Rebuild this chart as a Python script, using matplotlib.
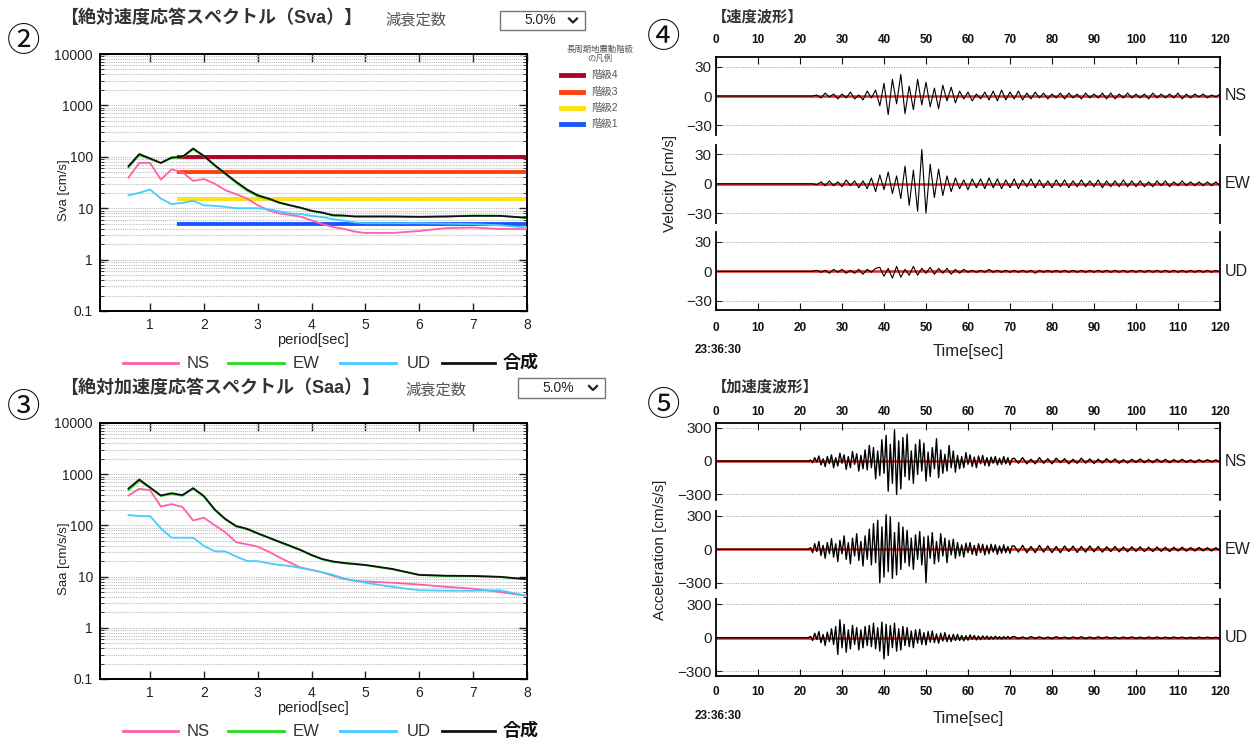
import numpy as np
import matplotlib
matplotlib.use('Agg')
import matplotlib.pyplot as plt
from matplotlib.lines import Line2D
from matplotlib.patches import Rectangle
from matplotlib.ticker import LogLocator, NullFormatter

plt.rcParams['font.family'] = ['Liberation Sans', 'Noto Sans CJK JP', 'DejaVu Sans']
NARROW = ['Liberation Sans Narrow', 'Liberation Sans', 'DejaVu Sans']

# ---- response spectra (period in sec) ----
period = [0.6, 0.8, 1.0, 1.2, 1.4, 1.6, 1.8, 2.0, 2.2, 2.4, 2.6, 2.8, 3.0, 3.2, 3.4,
          3.6, 3.8, 4.0, 4.2, 4.4, 4.6, 4.8, 5.0, 5.5, 6.0, 6.5, 7.0, 7.5, 8.0]
sva_ns = [39.6, 76, 76, 36, 57, 50, 34, 37, 30, 22.4, 18.7, 15.4, 11.4, 9.1, 7.9,
          7.4, 6.8, 5.8, 4.9, 4.3, 3.95, 3.5, 3.3, 3.3, 3.6, 4.1, 4.2, 3.95, 3.9]
sva_ew = [62, 108, 90, 76, 94, 98, 140, 102, 67, 46, 31, 22, 17, 15, 12.7,
          11.3, 10.1, 8.8, 8.1, 7.2, 7.1, 6.9, 6.9, 6.9, 6.8, 6.9, 7.2, 7.1, 6.5]
sva_ud = [17.9, 19.9, 23.1, 15.4, 12, 12.7, 13.9, 11.4, 11.1, 10.6, 10, 10, 10, 9.5, 8.7,
          7.9, 7.7, 7.1, 6.7, 6.1, 5.7, 5.3, 5.1, 5.1, 5.1, 5.0, 4.9, 4.65, 4.2]
sva_all = [66, 113, 93, 76, 97, 100, 145, 104, 69, 47, 32.6, 23.1, 17.9, 15.4, 12.9,
           11.4, 10.2, 8.9, 8.2, 7.3, 7.2, 6.9, 6.9, 6.9, 6.8, 6.9, 7.1, 7.1, 6.5]

saa_ns = [384, 518, 488, 234, 260, 230, 125, 141, 101, 73, 46.7, 42.7, 38.4, 30.7, 23.8,
          18.7, 15, 13.5, 12.1, 10.4, 9.0, 8.3, 8.0, 7.6, 7.0, 6.3, 5.8, 5.0, 4.2]
saa_ew = [490, 740, 540, 375, 410, 380, 520, 365, 200, 130, 95, 84, 69, 57, 47,
          39, 32.5, 26, 21.7, 19.4, 18.2, 17.4, 16.6, 13.9, 10.7, 10.3, 10.2, 9.8, 8.8]
saa_ud = [159, 152, 152, 87.5, 57.5, 57.5, 57.5, 39.6, 31.2, 31, 24.6, 20.2, 20, 18.2, 16.9,
          16.1, 14.7, 13.5, 12.1, 10.8, 9.2, 8.3, 7.6, 6.3, 5.4, 5.3, 5.3, 5.4, 4.2]
saa_all = [526, 787, 550, 384, 426, 390, 534, 373, 205, 133, 97, 86, 70, 58, 48,
           40, 33, 26.4, 22, 19.7, 18.5, 17.7, 16.9, 14.1, 10.8, 10.4, 10.3, 9.9, 8.9]

# long-period ground motion class levels (cm/s), drawn from 1.5 s
level_names = ['階級4', '階級3', '階級2', '階級1']
level_vals = [100, 50, 15, 5]
level_colors = ['#b0002a', '#ff4010', '#ffe010', '#1a56ff']
level_start = 1.5

comp_names = ['NS', 'EW', 'UD', '合成']
comp_colors = ['#ff5fa8', '#22dd22', '#44ccff', '#111111']

# ---- waveforms ----
# velocity: 1 s samples from 23 s
vel_t0 = 23
vel_ns = [0, 1, -2, 3, -1, 2, -3, 2, -2, 4, -3, 1, -4, 5, -2,
          6, -10, 13, -19, 17, -8, 22, -18, 10, -14, 17, -9, 14, -11, 8, -13, 11, -5, 9, -7,
          5, -3, 4, -5, 2, -3, 4, -4, 5, -5, 6, -4, 4, -3, 5, -4, 3, -3, 4, -2,
          3, -3, 2, -2, 3, -3, 3, -2, 2, -3, 3, -2, 2, -2, 3, -3, 3, -3, 2, -2,
          3, -2, 2, -2, 2, -3, 3, -2, 2, -2, 2, -2, 3, -3, 2, -2, 2, -1, 2, -2, 1, -1, 2]
vel_ew = [0, -1, 2, -2, 3, -2, 2, -3, 4, -2, 3, -4, 3, -5,
          6, -8, 9, -6, 12, -10, 8, -15,
          18, -22, 14, -28, 35, -30, 20, -14, 15, -12, 8, -8,
          6, -5, 4, -6, 5, -4, 5, -5, 6, -4, 5, -5, 4, -4, 5, -5, 4, -3, 5, -4,
          4, -4, 3, -4, 4, -3, 4, -4, 3, -3, 4, -3, 3, -3, 4, -4, 3, -3, 3, -3,
          4, -3, 3, -3, 3, -3, 2, -3, 3, -2, 3, -3, 2, -2, 3, -2, 2, -2, 2, -2,
          2, -2, 2, -2]
vel_ud = [0, 1, -1, 1, -2, 2, -1, 2, -2, 1, -2, 2, -3, 2, -1, 3,
          4, -5, 3, -7, 5, -6, 2, -4, 5, -4,
          3, -2, 4, -3, 3, -2, 3, -3, 2, -2, 2, -1,
          1, -1, 1, -1, 2, -1, 1, -1, 1, -1, 1, -1, 1, -1, 1, -2, 1, -1, 1, -1,
          1, -1, 1, -1, 1, -1, 1, -1, 1, -1, 1, -1, 1, -1, 1, -1, 1, -1, 1, -1,
          1, -1, 1, -1, 1, -1, 1, -1, 1, -1, 1, -1, 1, -1, 1, -1, 1, -1, 1, -1]

# acceleration: 0.5 s samples from 22 s, then 1 s samples from 71 s
acc_t0 = 22
acc_tail_t0 = 71
acc_ns = [0, 8, -15, 30, -10, 45, -35, 20, -50, 40, -25, 55,
          -60, 30, -45, 70, -20, 55, -75, 40, -60, 85, -30, 65, -90, 50, -70, 100,
          -80, 140, -60, 120, -160, 90, -130, 190, -110, 230,
          -270, 150, -200, 280, -300, 180, -250, 210, -140, 240,
          -170, 90, -200, 150, -120, 190, -90, 160, -180, 80, -140, 120,
          -70, 200, -150, 100, -110, 60, -90, 140, -60, 90, -100, 50,
          -70, 40, -60, 75, -30, 55, -50, 35, -60, 45, -25, 50, -40,
          30, -45, 35, -20, 40, -35, 25, -30, 40, -25, 30, -35, 20]
acc_ns_tail = [25, -20, 30, -25, 15, -25, 30, -20, 20, -25, 25, -15, 20, -25, 15, -20, 25, -18,
               18, -22, 15, -18, 20, -15, 18, -20, 12, -18, 15, -12, 18, -15, 12, -15, 16, -12,
               14, -15, 12, -10, 15, -12, 10, -14, 12, -10, 12, -8, 10, -10]
acc_ew = [0, 15, -30, 50, -20, 70, -55, 35, -80, 60, -40, 95,
          -70, 50, -110, 80, -40, 120, -90, 60, -130, 100, -60, 140, -100, 70, -150, 120,
          -90, 180, -140, 230, -120, 260, -300, 200, -250, 310,
          -200, 290, -260, 150, -230, 240, -180, 200, -120, 170,
          -150, 100, -180, 130, -90, 160, -140, 110, -300, 120, -80, 150,
          -130, 70, -110, 140, -60, 100, -120, 80, -50, 90, -80, 60,
          -60, 40, -70, 55, -30, 60, -45, 35, -55, 50, -30, 45, -50,
          35, -40, 45, -25, 40, -45, 30, -35, 40, -30, 25, -35, 30]
acc_ew_tail = [30, -25, 35, -30, 25, -30, 35, -25, 30, -30, 25, -30, 30, -20, 28, -28, 25, -25,
               30, -22, 25, -25, 22, -20, 25, -22, 20, -22, 22, -18, 22, -20, 18, -20, 20, -18,
               18, -20, 18, -15, 18, -16, 15, -15, 16, -14, 14, -15, 14, -12]
acc_ud = [0, 12, -25, 40, -15, 55, -45, 30, -70, 50, -35, 80,
          -60, 100, -150, 160, -90, 120, -130, 70, -100, 110, -60, 90, -110, 70, -90, 100,
          -70, 110, -80, 130, -100, 90, -120, 140, -190, 120,
          -160, 110, -90, 130, -120, 80, -110, 100, -70, 90,
          -80, 60, -90, 70, -50, 75, -60, 45, -65, 55, -40, 60,
          -45, 35, -50, 40, -30, 45, -35, 25, -35, 30, -25, 30,
          -25, 20, -28, 18, -22, 25, -15, 20, -20, 15, -18, 16, -12,
          15, -14, 10, -12, 13, -10, 9, -12, 10, -8, 11, -9, 8]
acc_ud_tail = [10, -8, 7, -9, 10, -6, 8, -8, 6, -8, 9, -7, 6, -8, 7, -6, 8, -7,
               6, -7, 8, -5, 7, -6, 5, -7, 6, -5, 7, -6, 5, -6, 6, -5, 6, -6,
               5, -5, 6, -4, 5, -5, 4, -5, 5, -4, 5, -4, 4, -5]

W, H = 1252, 738
fig = plt.figure(figsize=(W / 100, H / 100), dpi=100)


def fx(x):
    return x / W


def fy(y):
    return 1 - y / H


def px_axes(left, top, right, bottom):
    return fig.add_axes([fx(left), fy(bottom), (right - left) / W, (bottom - top) / H])


def hline(x0, x1, y, color, lw):
    fig.add_artist(Line2D([fx(x0), fx(x1)], [fy(y), fy(y)], color=color, lw=lw,
                          transform=fig.transFigure))


def dropdown(x0, x1, y0, y1):
    fig.add_artist(Rectangle((fx(x0), fy(y1)), (x1 - x0) / W, (y1 - y0) / H,
                             transform=fig.transFigure, facecolor='white',
                             edgecolor='#767676', lw=1))
    yc = (y0 + y1) / 2
    fig.text(fx(x0 + 40), fy(yc), '5.0%', fontsize=10, ha='center', va='center', color='#222')
    cx = x1 - 12
    fig.add_artist(Line2D([fx(cx - 4), fx(cx), fx(cx + 4)], [fy(yc - 2), fy(yc + 2), fy(yc - 2)],
                          color='#222', lw=1.6, transform=fig.transFigure))


def spectrum(top, bottom, series, ylabel, head_y, title, dd_label_x, dd):
    ax = px_axes(100, top, 527, bottom)
    if ylabel.startswith('Sva'):
        for v, c in zip(level_vals, level_colors):
            ax.plot([level_start, 8], [v, v], color=c, lw=2.8, zorder=2, solid_capstyle='butt')
    for s, c in zip(series, comp_colors):
        ax.plot(period, s, color=c, lw=1.3, zorder=3)
    ax.set_yscale('log')
    ax.set_ylim(0.1, 10000)
    ax.set_xlim(0.07, 8)
    ax.set_xticks(range(1, 9))
    ax.set_yticks([0.1, 1, 10, 100, 1000, 10000])
    ax.set_yticklabels(['0.1', '1', '10', '100', '1000', '10000'])
    ax.yaxis.set_minor_locator(LogLocator(base=10, subs=np.arange(2, 10), numticks=20))
    ax.yaxis.set_minor_formatter(NullFormatter())
    ax.set_axisbelow(True)
    ax.grid(True, which='both', axis='y', ls=(0, (1, 1)), color='#bdbdbd', lw=0.8)
    ax.tick_params(which='both', direction='in', top=True, right=True, labelsize=10,
                   pad=5, colors='#222')
    ax.tick_params(which='major', length=6, width=1)
    ax.tick_params(which='minor', length=3)
    for sp in ax.spines.values():
        sp.set_linewidth(1.4)
    fig.text(fx(313), fy(bottom + 29), 'period[sec]', fontsize=10.5, ha='center', va='center',
             color='#222')
    fig.text(fx(64), fy((top + bottom) / 2 + 8), ylabel, fontsize=9.5, rotation=90,
             ha='center', va='center', color='#222')
    # component legend row
    ly = bottom + 52
    rows = [(123, 178, 187), (228, 284, 293), (340, 396, 407), (442, 495, 503)]
    for (x0, x1, tx), name, c in zip(rows, comp_names, comp_colors):
        hline(x0, x1, ly, c, 2)
        if name == '合成':
            fig.text(fx(tx), fy(ly), name, fontsize=13, fontweight='bold', va='center', color='#111')
        else:
            fig.text(fx(tx), fy(ly), name, fontsize=12, va='center', color='#333')
    fig.text(fx(60), fy(head_y), title, fontsize=13, fontweight='bold', va='center', color='#333')
    fig.text(fx(dd_label_x), fy(head_y + 2), '減衰定数', fontsize=11, va='center', color='#555')
    dropdown(*dd)
    return ax


spectrum(54, 311, [sva_ns, sva_ew, sva_ud, sva_all], 'Sva [cm/s]', 18,
         '【絶対速度応答スペクトル（Sva）】', 385, (500, 585, 11, 30))
spectrum(423, 679, [saa_ns, saa_ew, saa_ud, saa_all], 'Saa [cm/s/s]', 388,
         '【絶対加速度応答スペクトル（Saa）】', 405, (518, 605, 378, 398))

# class legend
fig.text(fx(600), fy(50), '長周期地震動階級', fontsize=6, ha='center', va='center', color='#555')
fig.text(fx(600), fy(59), 'の凡例', fontsize=6, ha='center', va='center', color='#555')
for name, c, y in zip(level_names, level_colors, [75, 91.5, 107.5, 123.5]):
    hline(561, 583, y, c, 3.5)
    fig.text(fx(591), fy(y), name, fontsize=7.5, va='center', color='#555')


def trace(t0, vals, tail_t0=None, tail=None):
    t = [0] + [t0 + i * (0.5 if tail is not None else 1) for i in range(len(vals))]
    v = [0] + list(vals)
    if tail is not None:
        t += [tail_t0 + i for i in range(len(tail))]
        v += list(tail)
    return t, v


def wave_panels(centers, half, lim, gval, traces, ylabel, ylabel_x, title, title_y,
                top_pad, bot_pad, time_y, lw):
    for i, (c, (t, v), lab) in enumerate(zip(centers, traces, ['NS', 'EW', 'UD'])):
        ax = px_axes(716, c - half, 1220, c + half)
        ax.set_xlim(0, 120)
        ax.set_ylim(-lim, lim)
        for g in (-gval, gval):
            ax.axhline(g, color='#9a9a9a', ls=(0, (1, 1.5)), lw=0.7, zorder=1)
        ax.axhline(0, color='#e0281e', lw=1.8, zorder=2)
        ax.plot(t, v, color='black', lw=lw, zorder=3)
        ax.set_yticks([-gval, 0, gval])
        ax.spines['top'].set_visible(i == 0)
        ax.spines['bottom'].set_visible(i == 2)
        for sp in ax.spines.values():
            sp.set_linewidth(1.3)
        ax.set_xticks(range(0, 121, 10))
        ax.set_xticklabels([str(x) for x in range(0, 121, 10)], fontweight='bold',
                           family=NARROW)
        ax.tick_params(axis='y', direction='in', length=4, labelsize=11, right=True, pad=3,
                       colors='#222')
        ax.tick_params(axis='x', direction='in', length=5, top=(i == 0), bottom=(i == 2),
                       labeltop=(i == 0), labelbottom=(i == 2), labelsize=8.5,
                       pad=top_pad if i == 0 else bot_pad, colors='#111')
        fig.text(fx(1225), fy(c), lab, fontsize=11.5, va='center', color='#222')
    fig.text(fx(ylabel_x), fy((centers[0] + centers[2]) / 2), ylabel, fontsize=11, rotation=90,
             ha='center', va='center', color='#222')
    fig.text(fx(712), fy(title_y), title, fontsize=11, fontweight='bold', va='center', color='#333')
    fig.text(fx(718), fy(time_y), '23:36:30', fontsize=8.5, fontweight='bold', family=NARROW,
             ha='center', va='center', color='#111')
    fig.text(fx(968), fy(time_y + 2), 'Time[sec]', fontsize=12, ha='center', va='center',
             color='#222')


wave_panels([96, 183.8, 271.3], 39.2, 40, 30,
            [trace(vel_t0, vel_ns), trace(vel_t0, vel_ew), trace(vel_t0, vel_ud)],
            'Velocity [cm/s]', 670, '【速度波形】', 17, 8, 8, 350, 0.8)
wave_panels([461, 549.3, 637.7], 38.5, 345, 300,
            [trace(acc_t0, acc_ns, acc_tail_t0, acc_ns_tail),
             trace(acc_t0, acc_ew, acc_tail_t0, acc_ew_tail),
             trace(acc_t0, acc_ud, acc_tail_t0, acc_ud_tail)],
            'Acceleration [cm/s/s]', 660, '【加速度波形】', 387, 3, 7, 716, 1.0)

# circled panel numbers
for s, x, y in [('②', 24, 41), ('③', 24, 408), ('④', 664, 38), ('⑤', 664, 405)]:
    fig.text(fx(x), fy(y), s, fontsize=24, ha='center', va='center', color='#111',
             family=['Noto Sans CJK JP', 'DejaVu Sans'])

fig.savefig('out.png', dpi=100, facecolor='white')
